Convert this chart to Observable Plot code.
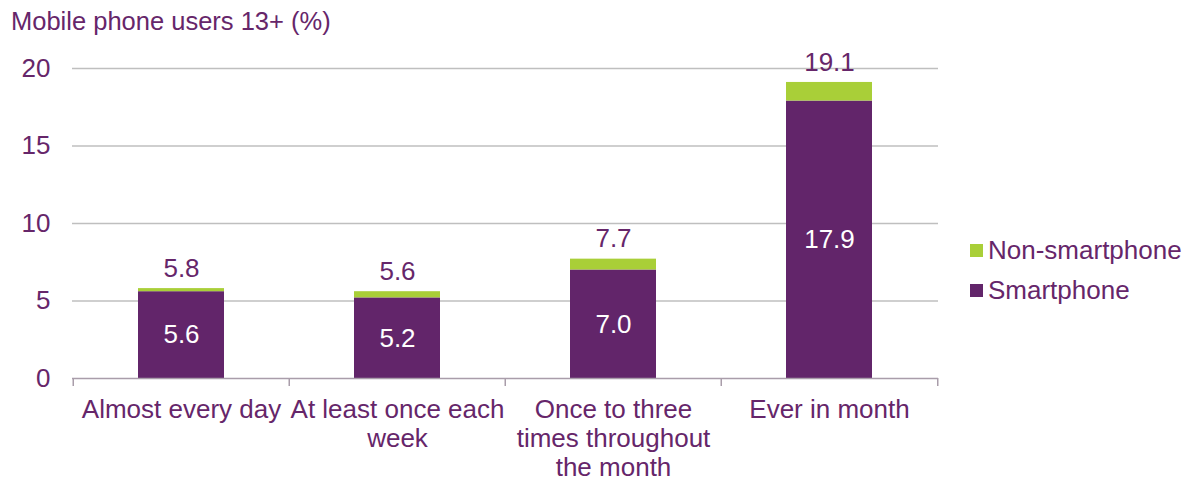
<!DOCTYPE html>
<html>
<head>
<meta charset="utf-8">
<script src="https://cdn.jsdelivr.net/npm/d3@7"></script>
<script src="https://cdn.jsdelivr.net/npm/@observablehq/plot@0.6"></script>
<style>
  html, body { margin: 0; padding: 0; background: #fff; }
  #wrap { position: relative; width: 1192px; height: 482px; font-family: "Liberation Sans", Arial, sans-serif; color: #66266A; }
  #title { height: 40px; line-height: 42px; font-size: 25.5px; padding-left: 11px; }
  .leg { position: absolute; left: 970px; font-size: 26px; line-height: 30px; display: flex; align-items: center; }
  .sw { width: 13px; height: 13px; margin-right: 5px; }
</style>
</head>
<body>
<div id="wrap">
  <div id="title">Mobile phone users 13+ (%)</div>
  <div id="chart"></div>
  <div id="legend"></div>
</div>
<script>
const categories = ["Almost every day", "At least once each week", "Once to three times throughout the month", "Ever in month"];
const categoryLabels = ["Almost every day", "At least once each\nweek", "Once to three\ntimes throughout\nthe month", "Ever in month"];
const seriesNames = ["Smartphone", "Non-smartphone"];
const smartphone = [5.6, 5.2, 7.0, 17.9];
const totals = [5.8, 5.6, 7.7, 19.1];
const nonSmartphone = [0.2, 0.4, 0.7, 1.2];
const yTicks = [0, 5, 10, 15, 20];
const colors = ["#62256A", "#A9CF38"];
const textColor = "#66266A";

const data = [
  ...categories.map((c, i) => ({cat: c, series: seriesNames[0], value: smartphone[i]})),
  ...categories.map((c, i) => ({cat: c, series: seriesNames[1], value: nonSmartphone[i]}))
];
const labelOf = new Map(categories.map((c, i) => [c, categoryLabels[i]]));

const width = 1192, marginLeft = 72, marginRight = 254;
const step = (width - marginLeft - marginRight) / categories.length;
const font = "Liberation Sans, Arial, sans-serif";
const fs = 26;

const chart = Plot.plot({
  width, height: 442,
  marginLeft, marginRight, marginTop: 28, marginBottom: 104,
  style: {fontFamily: font, fontSize: fs + "px", color: textColor, background: "#fff"},
  x: {type: "band", domain: categories, paddingInner: 0.6, paddingOuter: 0.3, axis: null},
  y: {domain: [0, 20], axis: null},
  color: {domain: seriesNames, range: colors},
  marks: [
    Plot.gridY(yTicks.filter(d => d > 0), {stroke: "#BFBFBF", strokeOpacity: 1, strokeWidth: 1.6}),
    Plot.axisY(yTicks, {tickSize: 0, tickPadding: 22, fontSize: fs, fill: textColor, label: null}),
    Plot.barY(data, {x: "cat", y: "value", fill: "series"}),
    Plot.ruleY([0], {stroke: "#A99DAA", strokeWidth: 1.5}),
    Plot.ruleX(categories, {x: d => d, dx: -step / 2, y1: 0, y2: 0, insetBottom: -8, stroke: "#A99DAA", strokeWidth: 1.5}),
    Plot.ruleX(categories.slice(-1), {x: d => d, dx: step / 2, y1: 0, y2: 0, insetBottom: -8, stroke: "#A99DAA", strokeWidth: 1.5}),
    Plot.text(categories, {x: d => d, y: (d, i) => smartphone[i] / 2, text: (d, i) => smartphone[i].toFixed(1), fill: "#fff", fontSize: fs}),
    Plot.text(categories, {x: d => d, y: (d, i) => totals[i], dy: -20, text: (d, i) => totals[i].toFixed(1), fill: textColor, fontSize: fs}),
    Plot.text(categories, {x: d => d, frameAnchor: "bottom", dy: 19, lineAnchor: "top", lineHeight: 1.11, text: d => labelOf.get(d), fill: textColor, fontSize: fs})
  ]
});
document.getElementById("chart").appendChild(chart);

const legend = document.getElementById("legend");
[[seriesNames[1], colors[1], 235], [seriesNames[0], colors[0], 275]].forEach(([name, col, top]) => {
  const item = document.createElement("div");
  item.className = "leg";
  item.style.top = top + "px";
  item.innerHTML = `<span class="sw" style="background:${col}"></span><span>${name}</span>`;
  legend.appendChild(item);
});
</script>
</body>
</html>
